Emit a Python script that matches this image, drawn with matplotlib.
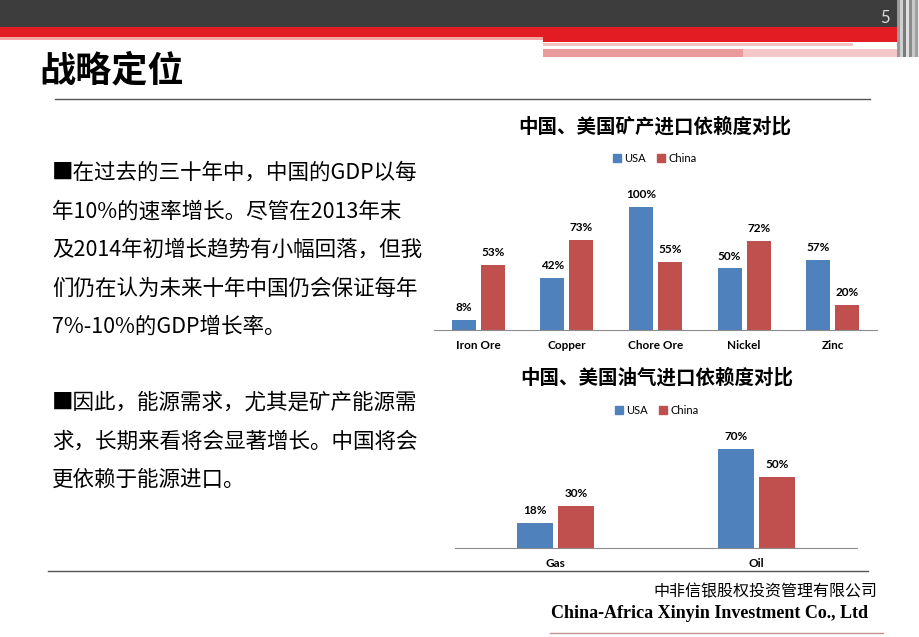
import matplotlib.pyplot as plt
from matplotlib.patches import Rectangle, Patch
import numpy as np

# data
minerals = ['Iron Ore', 'Copper', 'Chore Ore', 'Nickel', 'Zinc']
usa_mineral = [8, 42, 100, 50, 57]
china_mineral = [53, 73, 55, 72, 20]

energy = ['Gas', 'Oil']
usa_energy = [18, 70]
china_energy = [30, 50]

series_names = ['USA', 'China']
title_mineral = '中国、美国矿产进口依赖度对比'
title_energy = '中国、美国油气进口依赖度对比'
slide_title = '战略定位'
body_para1 = ['■在过去的三十年中，中国的GDP以每',
              '年10%的速率增长。尽管在2013年末',
              '及2014年初增长趋势有小幅回落，但我',
              '们仍在认为未来十年中国仍会保证每年',
              '7%-10%的GDP增长率。']
body_para2 = ['■因此，能源需求，尤其是矿产能源需',
              '求，长期来看将会显著增长。中国将会',
              '更依赖于能源进口。']
company_cn = '中非信银股权投资管理有限公司'
company_en = 'China-Africa Xinyin Investment Co., Ltd'

BLUE = '#4F81BD'
RED = '#C0504D'
CJK = ['Noto Sans CJK SC', 'DejaVu Sans']
LAT = ['Lato', 'DejaVu Sans']

W, H = 920, 637
fig = plt.figure(figsize=(W / 100, H / 100), dpi=100)

# background layer in pixel coordinates
bg = fig.add_axes([0, 0, 1, 1])
bg.set_xlim(0, W)
bg.set_ylim(H, 0)
bg.axis('off')

# header bands
bg.add_patch(Rectangle((0, 0), W, 27, color='#3d3d3d', lw=0))
bg.add_patch(Rectangle((0, 27), W, 10, color='#e31b23', lw=0))
bg.add_patch(Rectangle((0, 37), 543, 3, color='#f2a6a6', lw=0))
bg.add_patch(Rectangle((543, 37), 357, 5, color='#e31b23', lw=0))
bg.add_patch(Rectangle((543, 43), 310, 3, color='#f3c2c2', lw=0))
bg.add_patch(Rectangle((543, 49), 200, 8, color='#e99a9a', lw=0))
bg.add_patch(Rectangle((743, 49), 157, 8, color='#f4c8c8', lw=0))
for i, g in enumerate(['#9a9a9a', '#d0d0d0', '#7a7a7a', '#e0e0e0', '#8c8c8c',
                       '#c8c8c8', '#a0a0a0', '#e8e8e8']):
    bg.add_patch(Rectangle((897 + i * 3, 0), 3, 57, color=g, lw=0))
bg.text(885, 18, '5', color='#dddddd', fontsize=12, ha='center', va='center',
        family=LAT)

# slide title
bg.text(39, 71, slide_title, fontsize=26, fontweight='bold', family=CJK,
        ha='left', va='center', color='black')
bg.plot([55, 870], [99, 99], color='#555555', lw=1)

# body text
for i, line in enumerate(body_para1):
    bg.text(52, 173 + i * 38.5, line, fontsize=15.5, family=CJK,
            ha='left', va='center', color='black')
for i, line in enumerate(body_para2):
    bg.text(52, 403 + i * 38.5, line, fontsize=15.5, family=CJK,
            ha='left', va='center', color='black')

# footer
bg.plot([48, 868], [571, 571], color='#555555', lw=1)
bg.text(877, 592, company_cn, fontsize=11.5, family=CJK, ha='right',
        va='center', color='black')
bg.text(868, 613, company_en, fontsize=13, family=['Liberation Serif'],
        fontweight='bold', ha='right', va='center', color='black')
bg.plot([550, 883], [633, 633], color='#c99090', lw=1)


def px_axes(x0, y0, x1, y1):
    return fig.add_axes([x0 / W, 1 - y1 / H, (x1 - x0) / W, (y1 - y0) / H])


def bar_chart(ax, cats, usa, china, width, offset, ymax):
    x = np.arange(len(cats))
    b1 = ax.bar(x - offset, usa, width, color=BLUE)
    b2 = ax.bar(x + offset, china, width, color=RED)
    for b, vals in ((b1, usa), (b2, china)):
        ax.bar_label(b, labels=[f'{v}%' for v in vals], padding=5,
                     fontsize=8.5, fontweight='bold', family=LAT)
    ax.set_xlim(-0.5, len(cats) - 0.5)
    ax.set_ylim(0, ymax)
    ax.set_xticks(x)
    ax.set_xticklabels(cats, fontsize=8.5, fontweight='bold', family=LAT)
    ax.set_yticks([])
    ax.tick_params(length=0, pad=7)
    for s in ['top', 'left', 'right']:
        ax.spines[s].set_visible(False)
    ax.spines['bottom'].set_color('#8c8c8c')
    ax.patch.set_alpha(0)


handles = [Patch(color=BLUE), Patch(color=RED)]

# mineral chart
ax1 = px_axes(434, 190, 877, 330)
bar_chart(ax1, minerals, usa_mineral, china_mineral, 0.27, 0.164, 113.8)
bg.text(655, 127, title_mineral, fontsize=14, fontweight='bold', family=CJK,
        ha='center', va='center')
fig.legend(handles, series_names, loc='center', ncol=2, frameon=False,
           bbox_to_anchor=(655 / W, 1 - 158 / H),
           handlelength=0.7, handleheight=0.7, handletextpad=0.3,
           columnspacing=1.0, prop={'family': LAT, 'size': 8})

# energy chart
ax2 = px_axes(455, 440, 857, 548)
bar_chart(ax2, energy, usa_energy, china_energy, 0.179, 0.102, 76.4)
bg.text(657, 378, title_energy, fontsize=14, fontweight='bold', family=CJK,
        ha='center', va='center')
fig.legend(handles, series_names, loc='center', ncol=2, frameon=False,
           bbox_to_anchor=(657 / W, 1 - 410 / H),
           handlelength=0.7, handleheight=0.7, handletextpad=0.3,
           columnspacing=1.0, prop={'family': LAT, 'size': 8})

fig.savefig('out.png', dpi=100)
